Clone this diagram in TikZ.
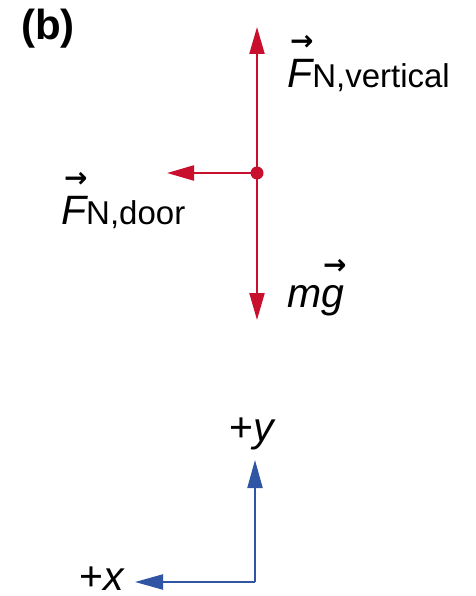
\documentclass[tikz,border=0pt]{standalone}
\usepackage{fontspec}
\setmainfont{Liberation Sans}
\newfontfamily\arrowfont{DejaVu Sans}
\usetikzlibrary{arrows.meta}
\definecolor{forcered}{HTML}{C8102E}
\definecolor{axisblue}{HTML}{2F55A4}
\newcommand\vecover[3]{\makebox[0pt][l]{\hspace*{#2}\raisebox{#3}{\arrowfont\bfseries\fontsize{28}{28}\selectfont →}}#1}
\newcommand\mainsz{\fontsize{41}{41}\selectfont}
\newcommand\subsz{\fontsize{33}{33}\selectfont\upshape}
\begin{document}
\begin{tikzpicture}[x=1pt,y=-1pt,
  force/.style={draw=forcered, line width=2.2pt, -{Triangle[length=27pt,width=15pt]}},
  axisline/.style={draw=axisblue, line width=2.2pt, -{Triangle[length=28pt,width=15pt]}},
  lab/.style={anchor=base west, inner sep=0pt, text=black}]
\useasboundingbox (0,0) rectangle (475,596);
\node[fill=forcered, circle, inner sep=0pt, minimum size=13pt] (p) at (257,173) {};
\coordinate (up) at (257,27);
\coordinate (down) at (257,320);
\coordinate (left) at (167,173);
\draw[force] (p.center) -- (up);
\draw[force] (p.center) -- (down);
\draw[force] (p.center) -- (left);
\node[lab] (lv) at (287,88) {\mainsz\vecover{\itshape F}{3pt}{37pt}\subsz N,vertical};
\node[lab] (ld) at (61,224) {\mainsz\vecover{\itshape F}{3pt}{37pt}\subsz N,door};
\node[lab] (lm) at (287,307) {\mainsz\vecover{\itshape m}{36pt}{33pt}\itshape g};
\node[lab] (lb) at (21,40) {\fontsize{42}{42}\selectfont\bfseries (b)};
\coordinate (o) at (255,582);
\coordinate (yt) at (255,460);
\coordinate (xt) at (135,582);
\draw[axisline] (o) -- (yt);
\draw[axisline] (o) -- (xt);
\node[lab] (ly) at (229,441) {\mainsz +{\itshape y}};
\node[lab] (lx) at (79,590) {\mainsz +{\itshape x}};
\end{tikzpicture}
\end{document}
